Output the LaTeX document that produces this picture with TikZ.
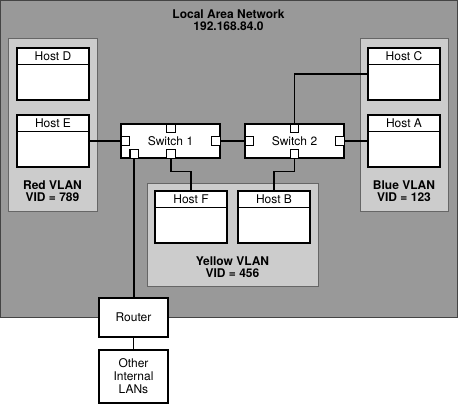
\documentclass[tikz,border=0pt]{standalone}
\usepackage{fontspec}
\setmainfont{TeX Gyre Heros}
\usetikzlibrary{positioning}
\definecolor{langray}{HTML}{999999}
\definecolor{vlangray}{HTML}{CCCCCC}
\definecolor{edgegray}{HTML}{444444}
\definecolor{vlanedge}{HTML}{666666}
\begin{document}
\begin{tikzpicture}[x=1pt,y=-1pt,
  lanbox/.style={draw=edgegray,fill=langray,line width=1pt},
  vlanbox/.style={draw=vlanedge,fill=vlangray,line width=1pt},
  hostbox/.style={draw=black,fill=white,line width=1.4pt,minimum width=72pt,minimum height=52pt,inner sep=0pt},
  plainbox/.style={draw=black,fill=white,line width=1.4pt,minimum width=69pt,inner sep=0pt,align=center,font=\fontsize{12}{13}\selectfont},
  switchbox/.style={draw=black,fill=white,line width=1.4pt,minimum width=99pt,minimum height=34pt,inner sep=0pt,font=\fontsize{12}{14}\selectfont},
  port/.style={draw=black,fill=white,line width=1.2pt,minimum size=8.5pt,inner sep=0pt},
  wire/.style={draw=black,line width=1.4pt},
  lbl/.style={font=\fontsize{12}{14}\selectfont\bfseries,align=center},
  hosttitle/.style={font=\fontsize{12}{14}\selectfont}
]
\useasboundingbox (0,0) rectangle (458,404);
% LAN background
\path[lanbox] (0.5,0.5) rectangle (457.5,317.5);
\node[lbl] (lantitle) at (228.5,20) {Local Area Network\\[-2pt]192.168.84.0};
% VLAN boxes
\path[vlanbox] (8,39) rectangle (97,211);
\path[vlanbox] (360,39) rectangle (448,211);
\path[vlanbox] (147,183) rectangle (318,286);
\node[lbl] (redlbl) at (52.5,191) {Red VLAN\\[-2pt]VID = 789};
\node[lbl] (bluelbl) at (404,191) {Blue VLAN\\[-2pt]VID = 123};
\node[lbl] (yellowlbl) at (232.5,267) {Yellow VLAN\\[-2pt]VID = 456};
% hosts
\newcommand{\hostnode}[4]{%
  \node[hostbox] (#1) at (#2,#3) {};
  \draw[black,line width=1pt] ([yshift=-17.5pt]#1.north west) -- ([yshift=-17.5pt]#1.north east);
  \node[hosttitle] (#1t) at ([yshift=-9pt]#1.north) {#4};
}
\hostnode{hd}{53}{74}{Host D}
\hostnode{he}{53}{141}{Host E}
\hostnode{hc}{404}{74}{Host C}
\hostnode{ha}{404}{141}{Host A}
\hostnode{hf}{191}{217}{Host F}
\hostnode{hb}{274}{217}{Host B}
% switches
\node[switchbox] (s1) at (170.5,141) {Switch 1};
\node[switchbox] (s2) at (294.5,141) {Switch 2};
\node[port,anchor=north] (s1t) at ([xshift=0.5pt]s1.north) {};
\node[port,anchor=west] (s1l) at (s1.west) {};
\node[port,anchor=east] (s1r) at (s1.east) {};
\node[port,anchor=south west] (s1bl) at ([xshift=9pt]s1.south west) {};
\node[port,anchor=south] (s1b) at ([xshift=0.5pt]s1.south) {};
\node[port,anchor=north] (s2t) at (s2.north) {};
\node[port,anchor=west] (s2l) at (s2.west) {};
\node[port,anchor=east] (s2r) at (s2.east) {};
\node[port,anchor=south] (s2b) at (s2.south) {};
% router and other LANs
\node[plainbox,minimum height=39pt] (router) at (133.5,317.5) {Router};
\node[plainbox,minimum height=53pt] (other) at (133.5,376.5) {Other\\Internal\\LANs};
% wires
\draw[wire] (he.east) -- (s1l.west);
\draw[wire] (s1r.east) -- (s2l.west);
\draw[wire] (s2r.east) -- (ha.west);
\draw[wire] (s2t.north) |- (hc.west);
\draw[wire] (s1b.south) -- ++(0,13) -| (hf.north);
\draw[wire] (s2b.south) -- ++(0,13) -| (hb.north);
\draw[wire] (s1bl.south) -- (s1bl.south |- router.north);
\draw[wire] (router.south) -- (other.north);
\end{tikzpicture}
\end{document}
